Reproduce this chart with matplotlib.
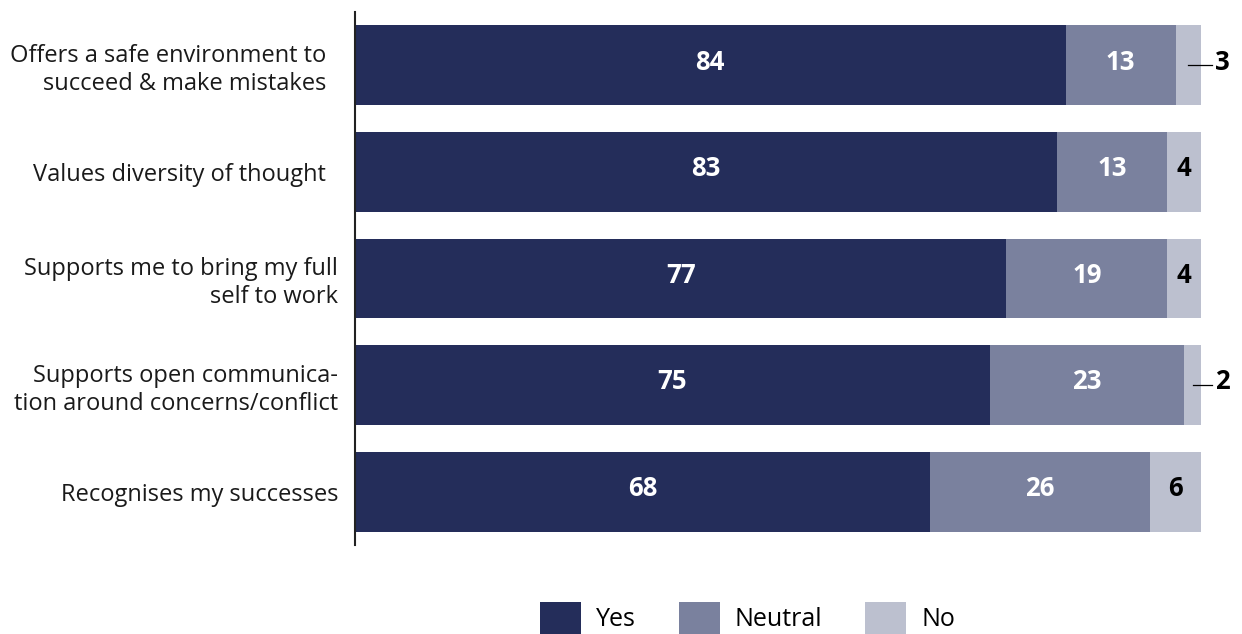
import matplotlib
matplotlib.use("Agg")
import matplotlib.pyplot as plt
from matplotlib.patches import Patch

categories = [
    "Offers a safe environment to  \nsucceed & make mistakes  ",
    "Values diversity of thought  ",
    "Supports me to bring my full\nself to work",
    "Supports open communica-\ntion around concerns/conflict",
    "Recognises my successes",
]
yes = [84, 83, 77, 75, 68]
neutral = [13, 13, 19, 23, 26]
no = [3, 4, 4, 2, 6]
series_names = ["Yes", "Neutral", "No"]
colors = ["#242d5a", "#7a819e", "#bcc0cf"]

plt.rcParams["font.family"] = ["Open Sans", "DejaVu Sans"]

fig = plt.figure(figsize=(12.42, 6.34), dpi=100)
ax = fig.add_axes([0.2858, 0.1404, 0.6812, 0.8407])

num_size = 18.5
ypos = list(range(len(categories)))
height = 0.75
left = [0] * len(categories)
for vals, col, name in zip([yes, neutral, no], colors, series_names):
    ax.barh(ypos, vals, left=left, height=height, color=col, label=name,
            edgecolor="none")
    for i, v in enumerate(vals):
        cx = left[i] + v / 2
        if name == "No":
            if v < 4:
                end = left[i] + v
                # small values get a leader line out to the right
                ax.plot([cx, end + 1.3], [i, i], color="black", lw=0.9,
                        clip_on=False)
                ax.text(end + 1.7, i - 0.03, str(v), ha="left", va="center",
                        fontsize=num_size, fontweight="bold",
                        color="black")
            else:
                ax.text(cx, i - 0.03, str(v), ha="center", va="center",
                        fontsize=num_size, fontweight="bold",
                        color="black")
        else:
            ax.text(cx, i - 0.03, str(v), ha="center", va="center",
                    fontsize=num_size, fontweight="bold", color="white")
    left = [l + v for l, v in zip(left, vals)]

ax.set_xlim(0, 100)
ax.set_ylim(len(categories) - 0.5, -0.5)
ax.set_yticks(ypos)
ax.set_yticklabels(categories, fontsize=17, color="#1a1a1a")
ax.tick_params(axis="y", length=0, pad=12)
ax.set_xticks([])
for s in ["top", "right", "bottom"]:
    ax.spines[s].set_visible(False)
ax.spines["left"].set_color("#222222")
ax.spines["left"].set_linewidth(1.5)

handles = [Patch(facecolor=c, edgecolor="none") for c in colors]
fig.legend(handles, series_names, loc="lower center",
           bbox_to_anchor=(0.602, -0.035), ncol=3, frameon=False,
           fontsize=18, handlelength=1.65, handleheight=1.6,
           handletextpad=0.6, columnspacing=1.7)

fig.savefig("out.png", dpi=100)
